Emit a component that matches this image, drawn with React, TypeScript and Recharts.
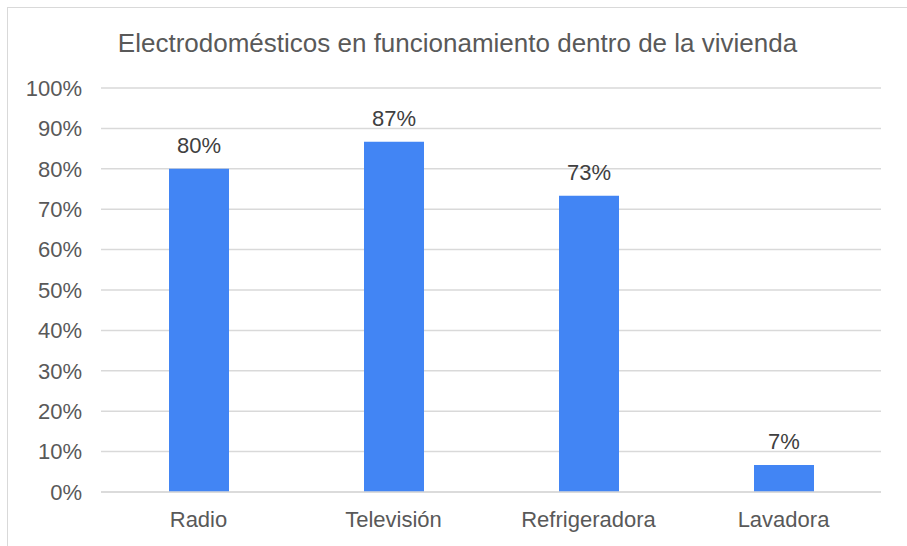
import { BarChart, Bar, XAxis, YAxis, CartesianGrid, LabelList } from "recharts";

const categories = ["Radio", "Televisión", "Refrigeradora", "Lavadora"];
const percents = [80, 86.7, 73.3, 6.7];
const yTicks = [0, 10, 20, 30, 40, 50, 60, 70, 80, 90, 100];

const data = categories.map((name, i) => ({ name, value: percents[i] }));

const font = "'Liberation Sans', Arial, sans-serif";
const textColor = "#595959";

export default function App() {
  return (
    <div style={{ position: "absolute", left: 0, top: 0, width: 907, height: 546, background: "#fff", overflow: "hidden", fontFamily: font }}>
      <div style={{ position: "absolute", left: 7, top: 7, width: 920, height: 560, border: "1px solid #d9d9d9" }} />
      <div style={{ position: "absolute", left: 0, top: 28, width: 915, textAlign: "center", fontSize: 26, color: textColor, whiteSpace: "nowrap" }}>
        Electrodomésticos en funcionamiento dentro de la vivienda
      </div>
      <div style={{ position: "absolute", left: 0, top: 0 }}>
        <BarChart width={907} height={546} data={data} margin={{ top: 88, right: 26, bottom: 0, left: 0 }}>
          <CartesianGrid vertical={false} stroke="#d9d9d9" strokeWidth={1.5} />
          <XAxis
            dataKey="name"
            height={54}
            tickLine={false}
            axisLine={{ stroke: "#d9d9d9", strokeWidth: 1.5 }}
            tickSize={0}
            tickMargin={19}
            tick={{ fill: textColor, fontSize: 22, fontFamily: font }}
          />
          <YAxis
            width={101}
            domain={[0, 100]}
            ticks={yTicks}
            tickFormatter={(v: number) => `${v}%`}
            axisLine={false}
            tickLine={false}
            tickSize={0}
            tickMargin={19}
            tick={{ fill: textColor, fontSize: 22, fontFamily: font }}
          />
          <Bar dataKey="value" fill="#4285F4" barSize={60} isAnimationActive={false}>
            <LabelList
              dataKey="value"
              position="top"
              offset={16}
              formatter={(v: number) => `${Math.round(v)}%`}
              style={{ fill: "#404040", fontSize: 22, fontFamily: font }}
            />
          </Bar>
        </BarChart>
      </div>
    </div>
  );
}
